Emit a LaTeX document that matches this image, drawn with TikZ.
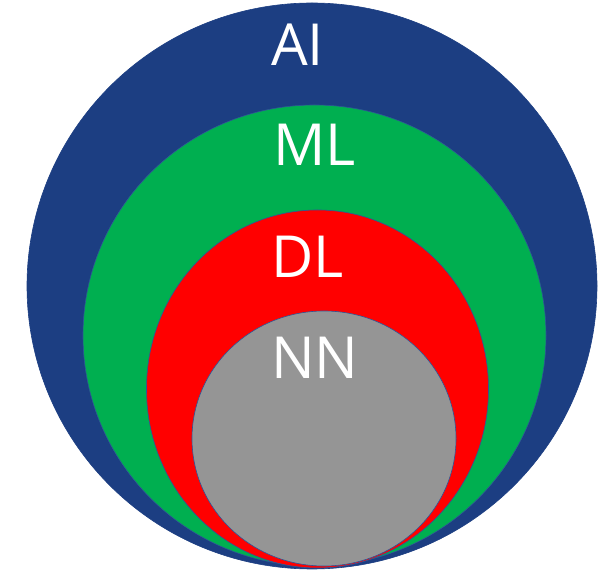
\documentclass[tikz,border=0pt]{standalone}
\usepackage{fontspec}
\setmainfont{Open Sans}
\usetikzlibrary{shapes.geometric}
\definecolor{aiblue}{RGB}{28,62,130}
\definecolor{mlgreen}{RGB}{0,175,80}
\definecolor{dlred}{RGB}{255,0,0}
\definecolor{nngrey}{RGB}{149,149,149}
\definecolor{edge}{RGB}{47,85,151}
\begin{document}
\begin{tikzpicture}[x=1pt,y=1pt,
  blob/.style={ellipse,inner sep=0pt,draw=edge,line width=0.6pt},
  lbl/.style={anchor=base west,inner sep=0pt,text=white,font=\fontsize{58}{60}\selectfont}]
\useasboundingbox (0,0) rectangle (613,570);
\node[blob,fill=aiblue,draw=aiblue,minimum width=570pt,minimum height=566pt] (ai) at (312,284) {};
\node[blob,fill=mlgreen,minimum width=463pt,minimum height=461pt] (ml) at (314.5,234.5) {};
\node[blob,fill=dlred,minimum width=342pt,minimum height=358pt] (dl) at (317.5,181) {};
\node[blob,fill=nngrey,minimum width=264pt,minimum height=255pt] (nn) at (324,131.5) {};
\node[lbl] (tai) at (271,504) {AI};
\node[lbl] (tml) at (273,404) {ML};
\node[lbl] (tdl) at (271,292) {DL};
\node[lbl] (tnn) at (271,191) {NN};
\end{tikzpicture}
\end{document}
